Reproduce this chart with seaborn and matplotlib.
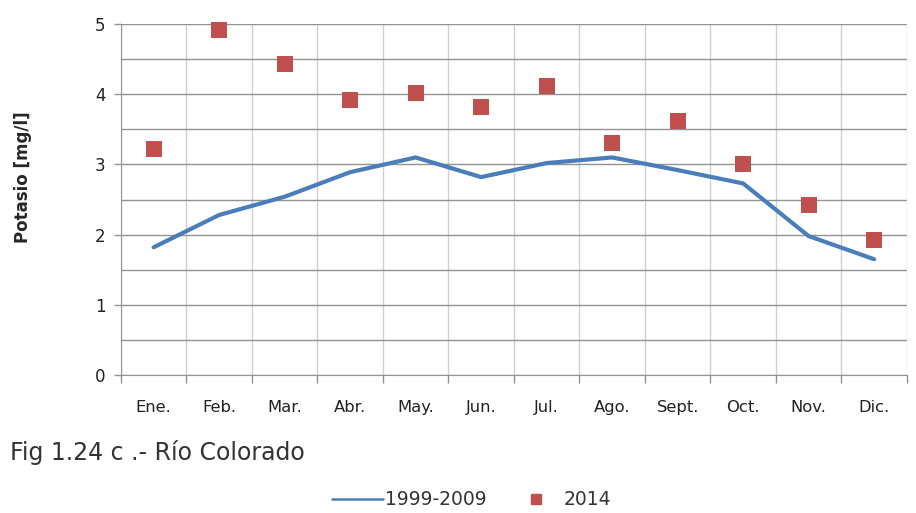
import numpy as np
import pandas as pd
import matplotlib
matplotlib.use("Agg")
import matplotlib.pyplot as plt
import seaborn as sns
from matplotlib.ticker import FixedLocator, MultipleLocator
from matplotlib.lines import Line2D

months = ["Ene.", "Feb.", "Mar.", "Abr.", "May.", "Jun.", "Jul.", "Ago.", "Sept.", "Oct.", "Nov.", "Dic."]
serie_1999_2009 = [1.82, 2.28, 2.54, 2.89, 3.10, 2.82, 3.02, 3.10, 2.92, 2.73, 1.98, 1.65]
serie_2014 = [3.22, 4.91, 4.43, 3.92, 4.02, 3.82, 4.12, 3.30, 3.62, 3.00, 2.42, 1.92]

df = pd.DataFrame({"mes": months, "hist": serie_1999_2009, "y2014": serie_2014})

sns.set_style("white")
plt.rcParams['font.family'] = ['DejaVu Sans']

fig = plt.figure(figsize=(9.16, 5.13), dpi=100)
ax = fig.add_axes([0.132, 0.269, 0.858, 0.684])

line_color = "#4A7EBB"
sq_color = "#C0504D"

sns.lineplot(data=df, x="mes", y="hist", ax=ax, color=line_color, linewidth=3.0,
             sort=False, zorder=3)
sns.scatterplot(data=df, x="mes", y="y2014", ax=ax, color=sq_color, marker="s",
                s=125, linewidth=0, zorder=4, clip_on=False)

ax.set_xlim(-0.5, 11.5)
ax.set_ylim(0, 5)

ax.yaxis.set_major_locator(MultipleLocator(1))
ax.yaxis.set_minor_locator(MultipleLocator(0.5))
ax.xaxis.set_major_locator(FixedLocator(np.arange(12)))
ax.set_xticklabels(months)
ax.xaxis.set_minor_locator(FixedLocator(np.arange(-0.5, 12, 1)))

ax.grid(True, which="both", axis="y", color="#939393", linewidth=1.0)
ax.grid(True, which="minor", axis="x", color="#d0d0d0", linewidth=1.0)
ax.grid(False, which="major", axis="x")

ax.tick_params(axis="x", which="major", length=0, pad=18, labelsize=11.8, colors="#222222")
ax.tick_params(axis="x", which="minor", length=6, width=1, color="#939393", direction="out", bottom=True)
ax.tick_params(axis="y", which="major", length=5, width=1, color="#939393", labelsize=12, pad=6, colors="#222222", left=True)
ax.tick_params(axis="y", which="minor", length=0)

for s in ["top", "right"]:
    ax.spines[s].set_visible(False)
ax.spines["left"].set_color("#939393")
ax.spines["bottom"].set_color("#939393")

ax.set_xlabel("")
ax.set_ylabel("Potasio [mg/l]", fontsize=12, fontweight="bold")
ax.yaxis.set_label_coords(-0.113, 0.564)

fig.text(0.011, 0.118, "Fig 1.24 c .- Río Colorado", fontsize=17, color="#333333", va="center")

handles = [Line2D([0], [0], color=line_color, lw=1.8),
           Line2D([0], [0], color=sq_color, marker="s", lw=0, markersize=7.5)]
fig.legend(handles, ["1999-2009", "2014"], loc="center", bbox_to_anchor=(0.515, 0.026),
           ncol=2, frameon=False, fontsize=13.5, handlelength=2.7, columnspacing=1.3,
           handletextpad=0.1, labelcolor="#333333")

fig.savefig("out.png", dpi=100)
